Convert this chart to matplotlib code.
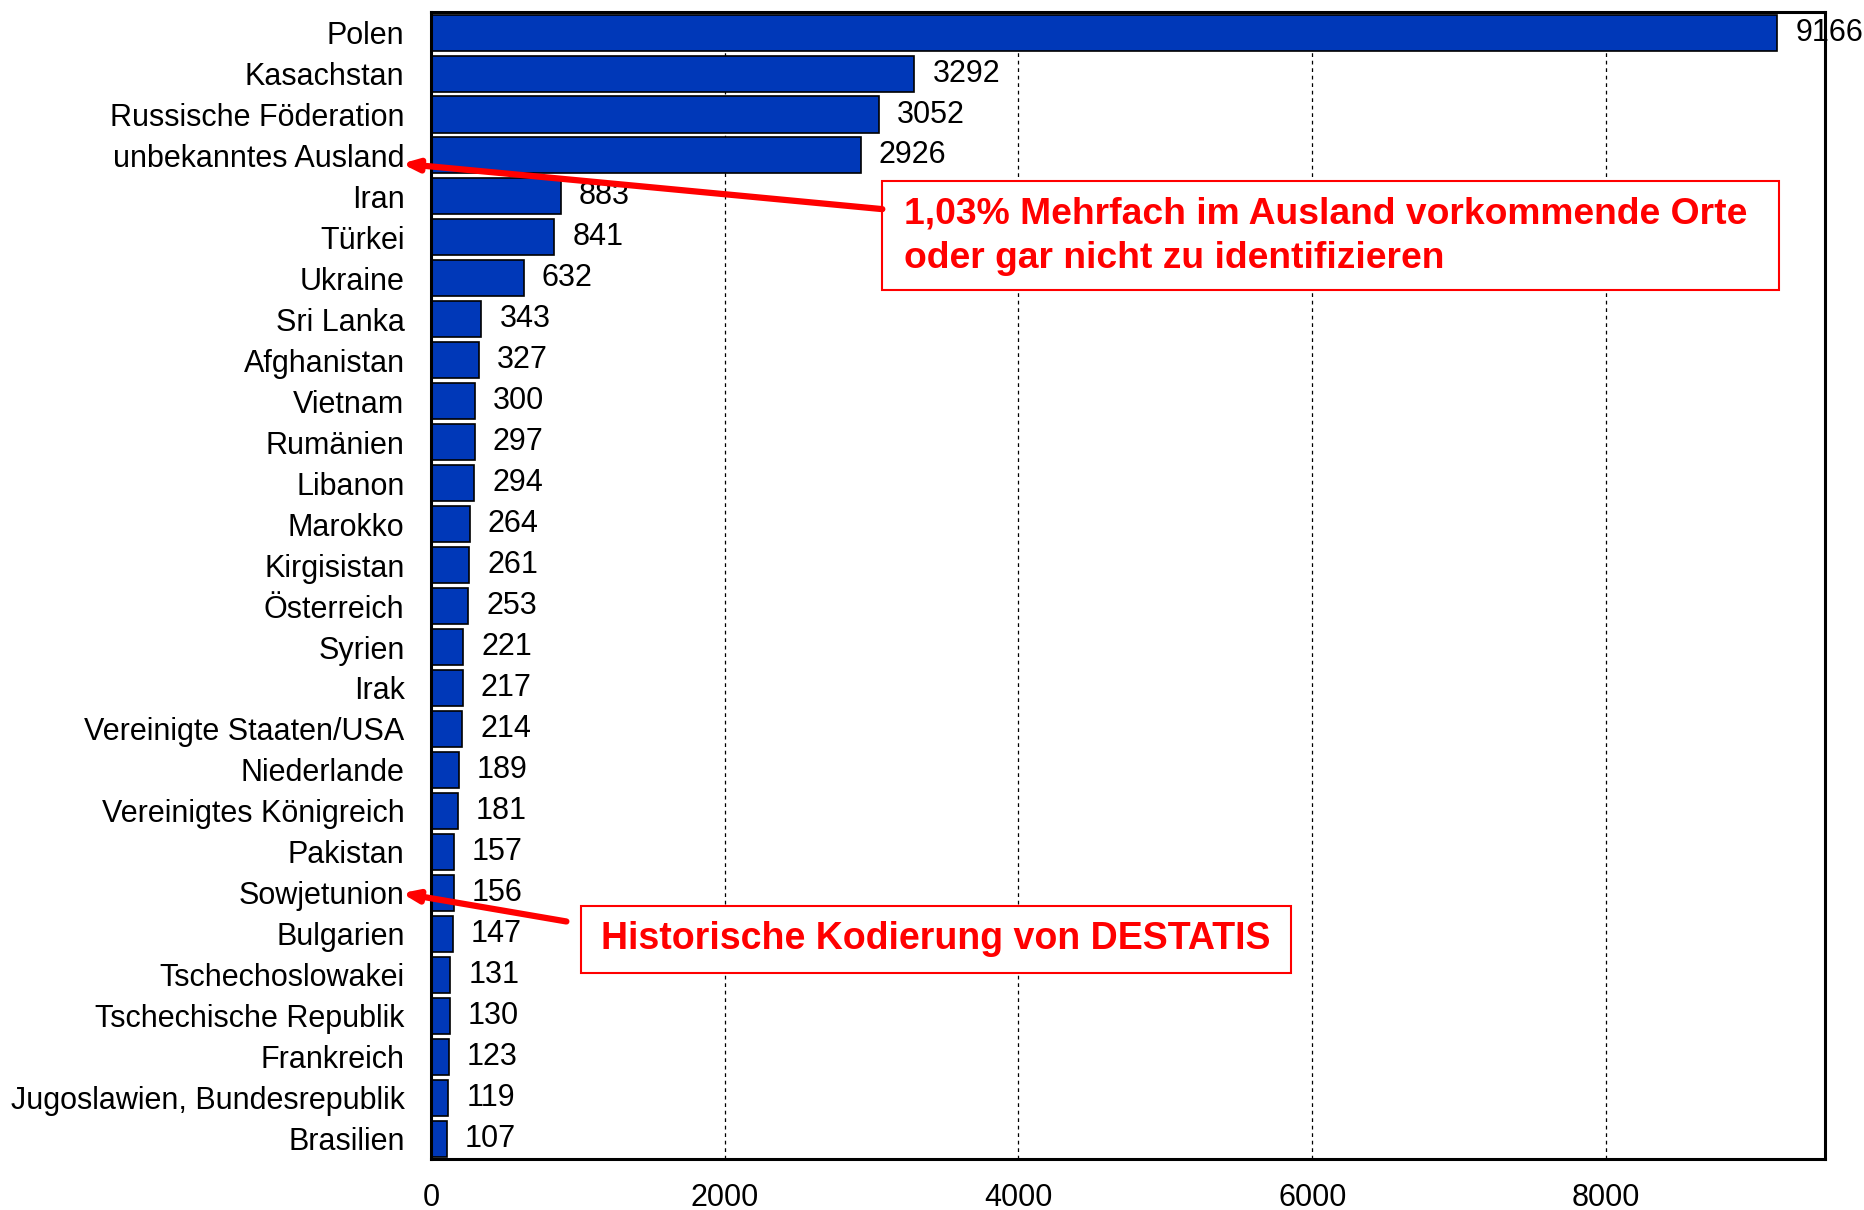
import numpy as np
import matplotlib.pyplot as plt
from matplotlib.patches import Rectangle

# -----------------------------
# Data
# -----------------------------
COUNTRIES = [
    "Polen", "Kasachstan", "Russische Föderation", "unbekanntes Ausland",
    "Iran", "Türkei", "Ukraine", "Sri Lanka", "Afghanistan", "Vietnam",
    "Rumänien", "Libanon", "Marokko", "Kirgisistan", "Österreich", "Syrien",
    "Irak", "Vereinigte Staaten/USA", "Niederlande", "Vereinigtes Königreich",
    "Pakistan", "Sowjetunion", "Bulgarien", "Tschechoslowakei",
    "Tschechische Republik", "Frankreich", "Jugoslawien, Bundesrepublik",
    "Brasilien",
]
COUNTS = [
    9166, 3292, 3052, 2926, 883, 841, 632, 343, 327, 300, 297, 294, 264, 261,
    253, 221, 217, 214, 189, 181, 157, 156, 147, 131, 130, 123, 119, 107,
]
X_TICKS = [0, 2000, 4000, 6000, 8000]

NOTE_AUSLAND = "1,03% Mehrfach im Ausland vorkommende Orte\noder gar nicht zu identifizieren"
NOTE_DESTATIS = "Historische Kodierung von DESTATIS"

BAR_COLOR = "#0038b8"
RED = "#ff0000"

plt.rcParams["font.family"] = ["Liberation Sans", "DejaVu Sans"]


def draw_bars(ax):
    y = np.arange(len(COUNTRIES))
    ax.barh(y, COUNTS, height=0.88, color=BAR_COLOR, edgecolor="black",
            linewidth=1.2, zorder=2)
    for yi, v in zip(y, COUNTS):
        ax.annotate(str(v), (v, yi), textcoords="offset points", xytext=(13, 0),
                    ha="left", va="center", fontsize=22, annotation_clip=False,
                    zorder=1.5)
    ax.set_yticks(y)
    ax.set_yticklabels(COUNTRIES, fontsize=22)
    ax.set_ylim(len(COUNTRIES) - 0.5, -0.5)
    ax.set_xlim(0, 9490)
    ax.set_xticks(X_TICKS)
    ax.set_xticklabels([str(t) for t in X_TICKS], fontsize=22)
    ax.tick_params(axis="y", length=0, pad=19)
    ax.tick_params(axis="x", length=0, pad=17)
    ax.xaxis.grid(True, color="black", linestyle=(0, (3, 3)), linewidth=0.9)
    ax.yaxis.grid(False)
    ax.set_axisbelow(True)
    for sp in ax.spines.values():
        sp.set_linewidth(2.2)
        sp.set_color("black")
        sp.set_zorder(4)


def draw_notes(ax):
    arrow = dict(arrowstyle="-|>,head_length=0.9,head_width=0.35",
                 color=RED, linewidth=4.5, shrinkA=0, shrinkB=0)

    # box around first note
    ax.add_patch(Rectangle((3073, 3.63), 9177 - 3073, 6.29 - 3.63,
                           facecolor="white", edgecolor=RED, linewidth=1.5,
                           zorder=5, clip_on=False))
    ax.text(3222, 4.97, NOTE_AUSLAND, color=RED, fontsize=26.8,
            fontweight="bold", ha="left", va="center", linespacing=1.36,
            zorder=6)
    ax.annotate("", xy=(-0.021, 3.2), xycoords=("axes fraction", "data"),
                xytext=(3073, 4.31), textcoords="data", arrowprops=arrow,
                annotation_clip=False, zorder=6)

    # box around second note
    ax.add_patch(Rectangle((1019, 21.33), 5858 - 1019, 22.95 - 21.33,
                           facecolor="white", edgecolor=RED, linewidth=1.5,
                           zorder=5, clip_on=False))
    ax.text(3440, 22.14, NOTE_DESTATIS, color=RED, fontsize=27,
            fontweight="bold", ha="center", va="center", zorder=6)
    ax.annotate("", xy=(-0.021, 21.01), xycoords=("axes fraction", "data"),
                xytext=(922, 21.70), textcoords="data", arrowprops=arrow,
                annotation_clip=False, zorder=6)


def main():
    fig = plt.figure(figsize=(18.64, 12.10), dpi=100)
    ax = fig.add_axes([0.2312, 0.0421, 0.979 - 0.2312, 0.990 - 0.0421])
    draw_bars(ax)
    draw_notes(ax)
    fig.savefig("out.png", dpi=100)
    plt.close(fig)


if __name__ == "__main__":
    main()
